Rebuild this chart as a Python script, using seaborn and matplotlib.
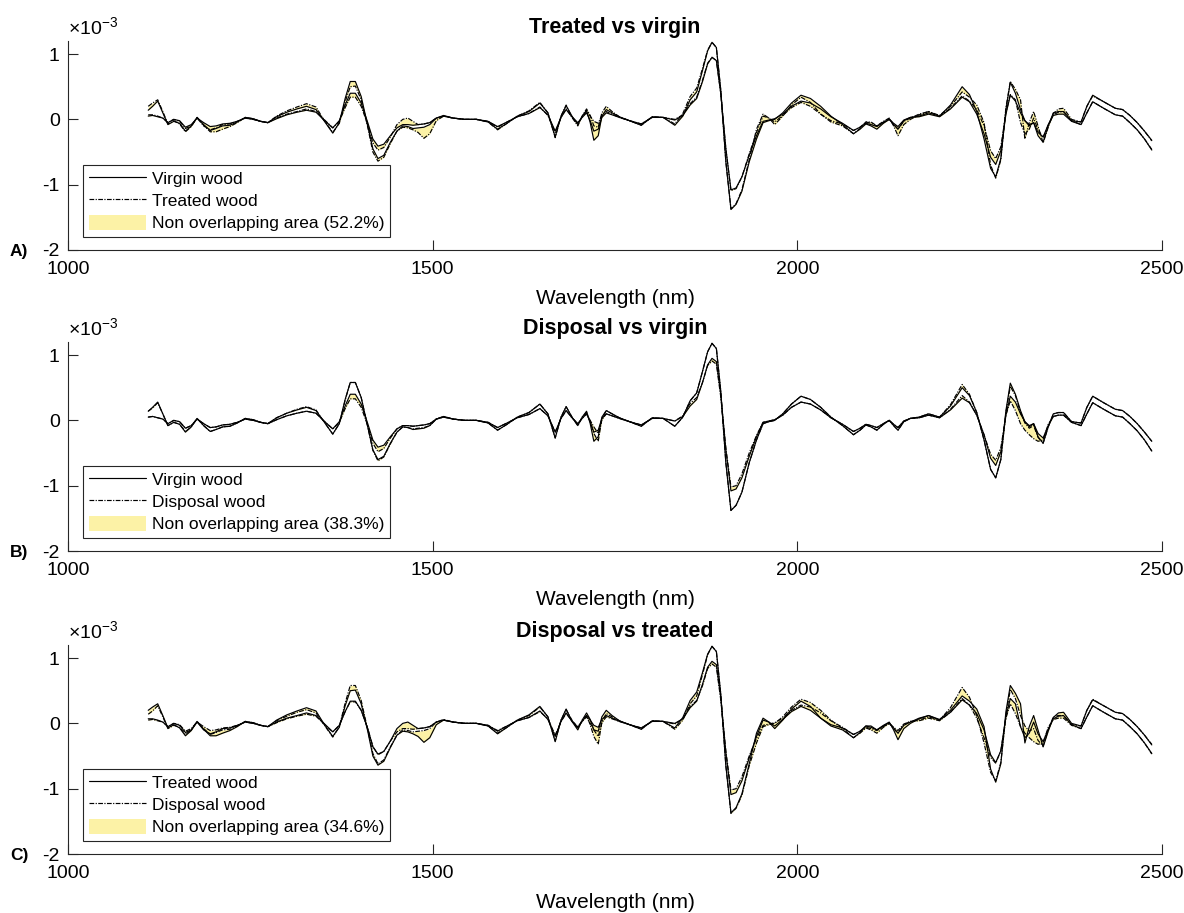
import matplotlib
matplotlib.use("Agg")
import numpy as np
import pandas as pd
import matplotlib.pyplot as plt
import seaborn as sns
from matplotlib.ticker import FuncFormatter
from matplotlib.lines import Line2D
from matplotlib.patches import Patch

# Wavelength grid (nm)
wavelength = [
    1110, 1116, 1123, 1130, 1137, 1145, 1153, 1161, 1169, 1177,
    1186, 1195, 1203, 1212, 1222, 1232, 1243, 1254, 1264, 1274,
    1286, 1300, 1314, 1327, 1340, 1351, 1363, 1372, 1380, 1387,
    1394, 1402, 1411, 1418, 1425, 1433, 1442, 1451, 1459, 1466,
    1473, 1480, 1488, 1496, 1505, 1515, 1528, 1544, 1560, 1576,
    1589, 1602, 1616, 1632, 1647, 1658, 1668, 1676, 1683, 1691,
    1699, 1705, 1711, 1716, 1721, 1727, 1732, 1738, 1746, 1756,
    1770, 1786, 1801, 1816, 1832, 1843, 1853, 1862, 1870, 1877,
    1883, 1889, 1895, 1902, 1909, 1916, 1924, 1934, 1944, 1953,
    1961, 1969, 1980, 1992, 2005, 2018, 2032, 2046, 2062, 2077,
    2086, 2094, 2101, 2109, 2118, 2126, 2132, 2138, 2146, 2155,
    2167, 2180, 2195, 2210, 2226, 2236, 2246, 2256, 2265, 2272,
    2279, 2286, 2292, 2299, 2306, 2312, 2318, 2324, 2330, 2337,
    2344, 2351, 2358, 2365, 2376, 2389, 2397, 2405, 2420, 2436,
    2446, 2456, 2466, 2476, 2486,
]

# Second-derivative spectra, band edges (units of 1e-3)
virgin_outer = [
    0.14, 0.20, 0.28, 0.10, -0.08, -0.03, -0.06, -0.18, -0.10, 0.03,
    -0.08, -0.17, -0.14, -0.10, -0.09, -0.04, 0.03, 0.01, -0.03, -0.05,
    0.04, 0.11, 0.16, 0.20, 0.15, -0.02, -0.21, -0.05, 0.32, 0.58,
    0.58, 0.35, -0.10, -0.45, -0.60, -0.55, -0.35, -0.18, -0.10, -0.11,
    -0.14, -0.13, -0.12, -0.08, 0.02, 0.06, 0.02, 0.00, 0.00, -0.04,
    -0.15, -0.06, 0.05, 0.12, 0.25, 0.10, -0.27, 0.05, 0.21, 0.05,
    -0.08, 0.05, 0.14, -0.05, -0.32, -0.25, 0.05, 0.15, 0.10, 0.04,
    -0.02, -0.09, 0.04, 0.03, -0.09, 0.05, 0.30, 0.42, 0.75, 1.05,
    1.18, 1.10, 0.45, -0.65, -1.38, -1.30, -1.10, -0.65, -0.30, -0.05,
    -0.02, 0.00, 0.10, 0.25, 0.37, 0.32, 0.20, 0.05, -0.08, -0.22,
    -0.15, -0.07, -0.10, -0.15, -0.06, 0.00, -0.08, -0.15, -0.02, 0.03,
    0.05, 0.10, 0.05, 0.22, 0.50, 0.38, 0.12, -0.30, -0.75, -0.88,
    -0.60, 0.15, 0.57, 0.40, 0.15, -0.02, -0.10, -0.05, -0.25, -0.35,
    -0.10, 0.10, 0.12, 0.12, -0.02, -0.04, 0.20, 0.37, 0.27, 0.17,
    0.15, 0.06, -0.05, -0.18, -0.32,
]
virgin_inner = [
    0.05, 0.06, 0.04, 0.02, -0.05, 0.00, -0.02, -0.12, -0.08, 0.02,
    -0.05, -0.11, -0.10, -0.07, -0.06, -0.03, 0.02, 0.00, -0.03, -0.05,
    0.01, 0.07, 0.11, 0.14, 0.11, -0.01, -0.13, -0.02, 0.22, 0.40,
    0.40, 0.25, -0.05, -0.30, -0.41, -0.38, -0.25, -0.13, -0.08, -0.08,
    -0.09, -0.08, -0.07, -0.05, 0.02, 0.05, 0.02, 0.00, 0.00, -0.03,
    -0.11, -0.04, 0.04, 0.09, 0.18, 0.07, -0.18, 0.03, 0.15, 0.04,
    -0.05, 0.03, 0.10, -0.02, -0.18, -0.15, 0.03, 0.10, 0.07, 0.03,
    -0.02, -0.07, 0.03, 0.03, -0.01, 0.06, 0.22, 0.32, 0.58, 0.85,
    0.95, 0.90, 0.40, -0.45, -1.08, -1.05, -0.88, -0.55, -0.25, -0.03,
    -0.01, 0.01, 0.08, 0.20, 0.28, 0.25, 0.16, 0.04, -0.06, -0.17,
    -0.12, -0.06, -0.08, -0.11, -0.05, 0.00, -0.06, -0.11, -0.01, 0.03,
    0.04, 0.08, 0.04, 0.16, 0.34, 0.27, 0.08, -0.22, -0.58, -0.69,
    -0.48, 0.08, 0.37, 0.28, 0.10, -0.02, -0.08, -0.05, -0.20, -0.27,
    -0.08, 0.06, 0.08, 0.08, -0.03, -0.08, 0.10, 0.27, 0.17, 0.07,
    0.05, -0.05, -0.16, -0.30, -0.47,
]
treated_outer = [
    0.20, 0.25, 0.30, 0.12, -0.07, -0.02, -0.07, -0.19, -0.11, 0.03,
    -0.09, -0.19, -0.19, -0.15, -0.11, -0.05, 0.03, 0.01, -0.03, -0.05,
    0.05, 0.13, 0.19, 0.24, 0.19, -0.01, -0.20, -0.06, 0.27, 0.50,
    0.51, 0.30, -0.12, -0.50, -0.64, -0.58, -0.37, -0.18, -0.12, -0.13,
    -0.16, -0.20, -0.29, -0.22, -0.02, 0.05, 0.02, 0.00, 0.00, -0.04,
    -0.16, -0.06, 0.05, 0.13, 0.26, 0.10, -0.28, 0.05, 0.22, 0.03,
    -0.10, 0.05, 0.16, 0.06, -0.10, -0.12, 0.10, 0.20, 0.12, 0.04,
    -0.02, -0.09, 0.04, 0.03, -0.07, 0.09, 0.35, 0.48, 0.78, 1.06,
    1.18, 1.10, 0.45, -0.65, -1.37, -1.29, -1.08, -0.62, -0.15, 0.08,
    0.02, -0.08, 0.05, 0.22, 0.34, 0.26, 0.08, -0.04, -0.10, -0.22,
    -0.14, -0.04, -0.04, -0.10, -0.03, 0.02, -0.10, -0.25, -0.08, 0.00,
    0.07, 0.12, 0.06, 0.20, 0.42, 0.34, 0.22, -0.05, -0.70, -0.90,
    -0.62, 0.18, 0.58, 0.46, 0.30, -0.30, -0.05, 0.12, -0.10, -0.36,
    -0.12, 0.09, 0.16, 0.17, 0.00, -0.04, 0.20, 0.36, 0.27, 0.17,
    0.15, 0.06, -0.05, -0.18, -0.33,
]
treated_inner = [
    0.07, 0.07, 0.05, 0.02, -0.05, 0.00, -0.03, -0.14, -0.10, 0.02,
    -0.10, -0.16, -0.13, -0.08, -0.07, -0.03, 0.02, 0.00, -0.03, -0.05,
    0.02, 0.08, 0.12, 0.16, 0.12, 0.00, -0.13, -0.03, 0.18, 0.34,
    0.34, 0.20, -0.08, -0.36, -0.47, -0.43, -0.27, -0.08, 0.00, 0.02,
    -0.03, -0.08, -0.07, -0.05, 0.02, 0.05, 0.02, 0.00, 0.00, -0.03,
    -0.12, -0.04, 0.04, 0.09, 0.19, 0.06, -0.20, 0.03, 0.16, 0.03,
    -0.06, 0.03, 0.12, 0.05, -0.03, -0.06, 0.06, 0.12, 0.08, 0.03,
    -0.02, -0.07, 0.03, 0.03, 0.00, 0.07, 0.24, 0.34, 0.60, 0.86,
    0.95, 0.90, 0.40, -0.45, -1.09, -1.06, -0.88, -0.53, -0.20, 0.05,
    0.02, -0.04, 0.06, 0.18, 0.26, 0.20, 0.08, -0.02, -0.07, -0.17,
    -0.12, -0.04, -0.06, -0.10, -0.04, 0.01, -0.07, -0.15, -0.03, 0.02,
    0.08, 0.12, 0.05, 0.17, 0.36, 0.28, 0.15, -0.10, -0.48, -0.60,
    -0.42, 0.10, 0.38, 0.30, -0.05, -0.22, -0.15, 0.02, -0.16, -0.28,
    -0.09, 0.07, 0.11, 0.12, -0.02, -0.08, 0.10, 0.27, 0.17, 0.07,
    0.05, -0.05, -0.16, -0.30, -0.46,
]
disposal_outer = [
    0.14, 0.19, 0.27, 0.10, -0.08, -0.03, -0.06, -0.17, -0.10, 0.03,
    -0.08, -0.17, -0.14, -0.10, -0.09, -0.04, 0.03, 0.01, -0.03, -0.05,
    0.04, 0.11, 0.17, 0.21, 0.16, -0.02, -0.21, -0.05, 0.31, 0.58,
    0.58, 0.35, -0.10, -0.46, -0.62, -0.56, -0.36, -0.18, -0.10, -0.11,
    -0.13, -0.12, -0.11, -0.08, 0.02, 0.06, 0.02, 0.00, 0.00, -0.04,
    -0.15, -0.06, 0.05, 0.12, 0.25, 0.10, -0.27, 0.05, 0.21, 0.05,
    -0.08, 0.05, 0.12, -0.02, -0.20, -0.32, 0.02, 0.15, 0.10, 0.04,
    -0.02, -0.09, 0.04, 0.03, -0.09, 0.05, 0.30, 0.42, 0.75, 1.05,
    1.18, 1.10, 0.45, -0.65, -1.38, -1.30, -1.10, -0.65, -0.30, -0.05,
    -0.02, 0.00, 0.10, 0.25, 0.37, 0.32, 0.20, 0.05, -0.08, -0.22,
    -0.15, -0.07, -0.10, -0.15, -0.06, 0.00, -0.08, -0.15, -0.02, 0.03,
    0.05, 0.10, 0.05, 0.24, 0.55, 0.40, 0.12, -0.30, -0.75, -0.88,
    -0.60, 0.12, 0.52, 0.38, 0.12, -0.04, -0.12, -0.08, -0.26, -0.35,
    -0.10, 0.10, 0.12, 0.12, -0.02, -0.04, 0.20, 0.37, 0.27, 0.17,
    0.15, 0.06, -0.05, -0.18, -0.32,
]
disposal_inner = [
    0.05, 0.06, 0.04, 0.02, -0.05, 0.00, -0.02, -0.12, -0.08, 0.02,
    -0.05, -0.11, -0.10, -0.07, -0.06, -0.03, 0.02, 0.00, -0.03, -0.05,
    0.01, 0.07, 0.11, 0.14, 0.11, -0.01, -0.13, -0.03, 0.18, 0.33,
    0.33, 0.20, -0.08, -0.35, -0.48, -0.43, -0.27, -0.13, -0.08, -0.08,
    -0.09, -0.08, -0.07, -0.05, 0.02, 0.05, 0.02, 0.00, 0.00, -0.03,
    -0.11, -0.04, 0.04, 0.09, 0.18, 0.07, -0.18, 0.03, 0.15, 0.04,
    -0.05, 0.03, 0.10, 0.00, -0.10, -0.20, 0.01, 0.10, 0.07, 0.03,
    -0.02, -0.07, 0.03, 0.03, -0.01, 0.07, 0.26, 0.35, 0.58, 0.84,
    0.91, 0.86, 0.36, -0.42, -1.02, -1.00, -0.82, -0.50, -0.23, -0.03,
    -0.01, 0.01, 0.08, 0.20, 0.28, 0.25, 0.16, 0.04, -0.06, -0.17,
    -0.12, -0.06, -0.08, -0.11, -0.05, 0.00, -0.06, -0.11, -0.01, 0.03,
    0.04, 0.08, 0.04, 0.17, 0.38, 0.28, 0.08, -0.22, -0.52, -0.61,
    -0.42, 0.08, 0.30, 0.15, -0.05, -0.15, -0.22, -0.28, -0.32, -0.30,
    -0.06, 0.06, 0.08, 0.08, -0.03, -0.08, 0.10, 0.27, 0.17, 0.07,
    0.05, -0.05, -0.16, -0.30, -0.47,
]

panel_titles = ["Treated vs virgin", "Disposal vs virgin", "Disposal vs treated"]
panel_tags = ["A)", "B)", "C)"]
panel_first = ["Virgin wood", "Virgin wood", "Treated wood"]
panel_second = ["Treated wood", "Disposal wood", "Disposal wood"]
non_overlap_pct = [52.2, 38.3, 34.6]

x_ticks = [1000, 1500, 2000, 2500]
y_ticks = [-2e-3, -1e-3, 0, 1e-3]

spectra = {
    "Virgin wood": (virgin_outer, virgin_inner),
    "Treated wood": (treated_outer, treated_inner),
    "Disposal wood": (disposal_outer, disposal_inner),
}

sns.set_theme(style="white")
plt.rcParams["font.family"] = ["Liberation Sans", "DejaVu Sans"]
plt.rcParams["mathtext.fontset"] = "custom"
plt.rcParams["mathtext.rm"] = "Liberation Sans"
plt.rcParams["mathtext.it"] = "Liberation Sans:italic"
plt.rcParams["mathtext.bf"] = "Liberation Sans:bold"
plt.rcParams["axes.unicode_minus"] = False
plt.rcParams["text.color"] = "black"
plt.rcParams["axes.labelcolor"] = "black"
plt.rcParams["lines.solid_joinstyle"] = "round"
plt.rcParams["lines.dash_joinstyle"] = "round"

FILL = "#fcf2a6"
AX_COLOR = "#262626"
DASHDOT = (4, 1.2, 1, 1.2)
LW = 0.85

fig = plt.figure(figsize=(11.84, 9.13), dpi=100)
ax_left, ax_width, ax_height = 68 / 1184, 1094 / 1184, 209 / 913
bottoms_px = [250, 551, 854]

wl = np.array(wavelength, dtype=float)
milli = FuncFormatter(lambda v, pos: f"{v * 1e3:.0f}")

for i in range(3):
    ax = fig.add_axes([ax_left, (913 - bottoms_px[i]) / 913, ax_width, ax_height])
    first, second = panel_first[i], panel_second[i]
    a_out, a_in = (np.array(v) * 1e-3 for v in spectra[first])
    b_out, b_in = (np.array(v) * 1e-3 for v in spectra[second])

    # non-overlapping area between the two bands
    ax.fill_between(wl, a_out, b_out, color=FILL, lw=0, zorder=1)
    ax.fill_between(wl, a_in, b_in, color=FILL, lw=0, zorder=1)

    frames = []
    for cls, (out_v, in_v) in ((first, (a_out, a_in)), (second, (b_out, b_in))):
        for edge, vals in (("outer", out_v), ("inner", in_v)):
            frames.append(pd.DataFrame({"wavelength": wl, "value": vals,
                                        "wood": cls, "edge": cls + edge}))
    df = pd.concat(frames, ignore_index=True)
    sns.lineplot(data=df, x="wavelength", y="value", style="wood", units="edge",
                 estimator=None, color="black", linewidth=LW,
                 dashes={first: "", second: DASHDOT}, legend=False, ax=ax,
                 zorder=3)

    ax.set_xlim(1000, 2500)
    ax.set_ylim(-2e-3, 1.2e-3)
    ax.set_xticks(x_ticks)
    ax.set_yticks(y_ticks)
    ax.yaxis.set_major_formatter(milli)
    ax.text(0, 1.012, r"$\times10^{-3}$", transform=ax.transAxes,
            fontsize=14, ha="left", va="bottom")

    for s in ("top", "right"):
        ax.spines[s].set_visible(False)
    for s in ("left", "bottom"):
        ax.spines[s].set_color(AX_COLOR)
        ax.spines[s].set_linewidth(0.8)
    ax.tick_params(axis="both", which="major", direction="in", length=7,
                   width=0.8, color=AX_COLOR, labelcolor="black", labelsize=14,
                   bottom=True, left=True)
    ax.tick_params(axis="x", pad=8)
    ax.tick_params(axis="y", pad=6)

    ax.set_title(panel_titles[i], fontsize=15.5, fontweight="bold", pad=6,
                 color="black")
    ax.set_xlabel("Wavelength (nm)", fontsize=15, labelpad=8)
    ax.set_ylabel("")

    handles = [
        Line2D([], [], color="black", lw=LW),
        Line2D([], [], color="black", lw=LW, dashes=DASHDOT),
        Patch(facecolor=FILL, edgecolor="none"),
    ]
    labels = [first, second, f"Non overlapping area ({non_overlap_pct[i]}%)"]
    leg = ax.legend(handles, labels, loc="lower left",
                    bbox_to_anchor=(0.0137, 0.062), borderaxespad=0,
                    fontsize=12.5, frameon=True, fancybox=False, framealpha=1,
                    edgecolor=AX_COLOR, borderpad=0.32, handlelength=3.3,
                    handletextpad=0.35, labelspacing=0.32, handleheight=1.0)
    leg.get_frame().set_linewidth(0.8)

    fig.text(10 / 1184, (913 - bottoms_px[i] - 1) / 913, panel_tags[i],
             fontsize=12.5, fontweight="bold", va="center", ha="left")

fig.savefig("out.png", dpi=100)
